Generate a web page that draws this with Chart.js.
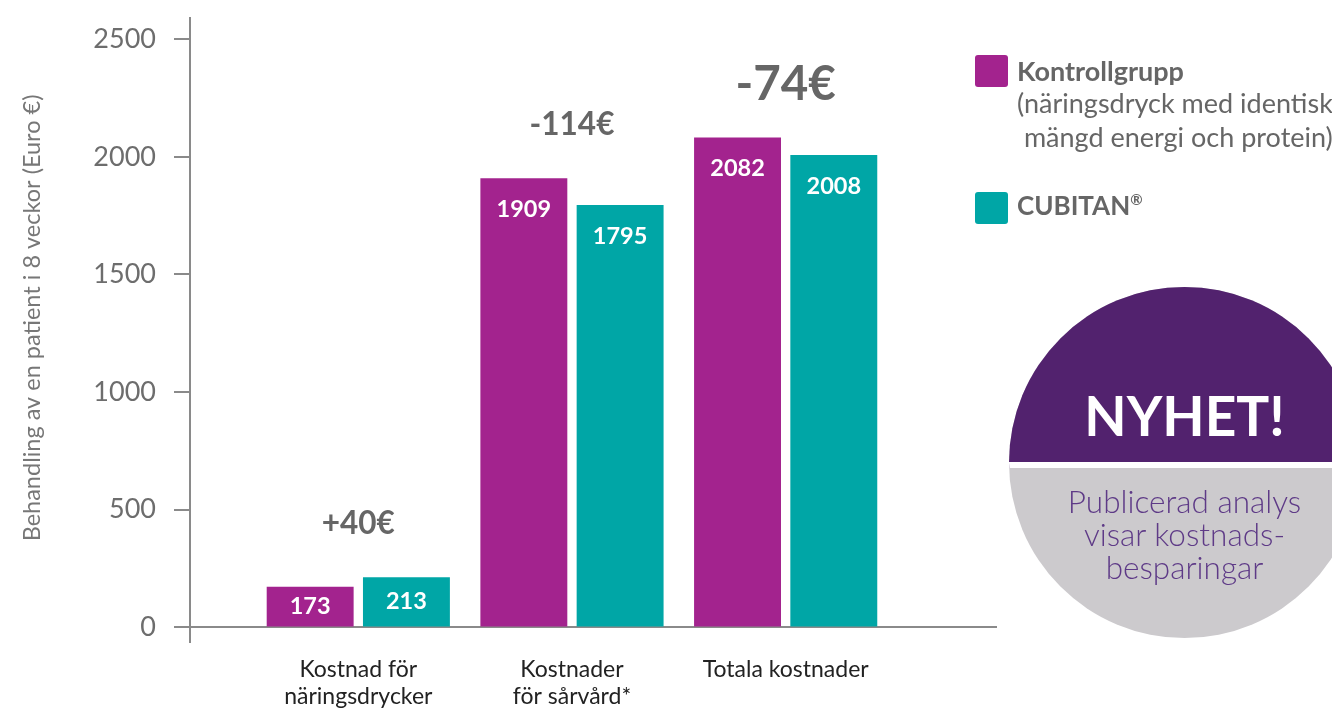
<!DOCTYPE html>
<html>
<head>
<meta charset="utf-8">
<script src="https://cdn.jsdelivr.net/npm/chart.js@4.4.1/dist/chart.umd.min.js"></script>
<style>
  html, body { margin: 0; padding: 0; background: #fff; overflow: hidden; }
  #wrap { position: relative; width: 1332px; height: 709px; overflow: hidden; font-family: Lato, sans-serif; }
  #chart { position: absolute; left: 0; top: 0; }
  .key { position: absolute; left: 975px; width: 33px; height: 32px; border-radius: 3px; }
  .ltxt { position: absolute; left: 1017px; color: #666; white-space: nowrap; font-size: 27px; line-height: 34px; }
  .ltxt b { font-weight: 700; }
  .ltxt sup { font-size: 15px; vertical-align: 10px; line-height: 0; }
  #badge { position: absolute; left: 1009px; top: 287px; width: 351px; height: 351px; border-radius: 50%; overflow: hidden; background: #cccacd; }
  #badge .top { position: absolute; left: 0; top: 0; width: 100%; height: 175px; background: #52226e; border-bottom: 6px solid #fff; }
  #badge .head { position: absolute; left: 0; width: 100%; top: 94px; text-align: center; color: #fff; font-weight: 700; font-size: 55px; line-height: 68px; }
  #badge .sub { position: absolute; left: 0; width: 100%; top: 198px; text-align: center; color: #5e3a87; font-weight: 300; font-size: 31.5px; line-height: 33px; }
</style>
</head>
<body>
<div id="wrap">
  <canvas id="chart" width="1332" height="709"></canvas>
  <div id="legend"></div>
  <div id="badge">
    <div class="top"></div>
    <div class="head">NYHET!</div>
    <div class="sub">Publicerad analys<br>visar kostnads-<br>besparingar</div>
  </div>
</div>
<script>
// categories (multi-line tick labels)
var categories = [['Kostnad för', 'näringsdrycker'], ['Kostnader', 'för sårvård*'], ['Totala kostnader']];
// series values (Euro per patient over 8 weeks)
var controlValues = [173, 1909, 2082];
var cubitanValues = [213, 1795, 2008];
var seriesNames = ['Kontrollgrupp', 'CUBITAN®'];
var seriesNotes = ['(näringsdryck med identisk', '\u00a0mängd energi och protein)'];
var yTicks = [0, 500, 1000, 1500, 2000, 2500];

var colors = ['#a3238e', '#00a6a6'];
var diffFontSizes = [31.5, 31.5, 47.5];

Chart.defaults.font.family = 'Lato, sans-serif';

// HTML legend
var legend = document.getElementById('legend');
legend.innerHTML =
  '<div class="key" style="top:55px;background:' + colors[0] + '"></div>' +
  '<div class="ltxt" style="top:54px"><b>' + seriesNames[0] + '</b></div>' +
  '<div class="ltxt" style="top:86px">' + seriesNotes[0] + '</div>' +
  '<div class="ltxt" style="top:120px">' + seriesNotes[1] + '</div>' +
  '<div class="key" style="top:192px;background:' + colors[1] + '"></div>' +
  '<div class="ltxt" style="top:188px;font-size:26px"><b>CUBITAN<sup>®</sup></b></div>';

var labelPlugin = {
  id: 'barLabels',
  afterDatasetsDraw: function(chart) {
    var ctx = chart.ctx;
    var metas = [chart.getDatasetMeta(0), chart.getDatasetMeta(1)];
    ctx.save();
    ctx.textAlign = 'center';
    ctx.textBaseline = 'middle';
    ctx.fillStyle = '#ffffff';
    ctx.font = 'bold 23.5px Lato, sans-serif';
    metas.forEach(function(meta, i) {
      var vals = i === 0 ? controlValues : cubitanValues;
      meta.data.forEach(function(bar, j) {
        var y = Math.min(bar.y + 31, (bar.y + bar.base) / 2);
        ctx.fillText(String(vals[j]), bar.x, y);
      });
    });
    // difference labels above each group
    ctx.fillStyle = '#666666';
    categories.forEach(function(c, j) {
      var a = metas[0].data[j], b = metas[1].data[j];
      var d = cubitanValues[j] - controlValues[j];
      var txt = (d > 0 ? '+' : '') + d + '€';
      ctx.font = 'bold ' + diffFontSizes[j] + 'px Lato, sans-serif';
      ctx.fillText(txt, (a.x + b.x) / 2, Math.min(a.y, b.y) - 53);
    });
    ctx.restore();
  }
};

var chart = new Chart(document.getElementById('chart'), {
  type: 'bar',
  data: {
    datasets: [
      {
        label: seriesNames[0],
        data: controlValues.map(function(v, i) { return {x: i, y: v}; }),
        backgroundColor: colors[0],
        borderWidth: 0
      },
      {
        label: seriesNames[1],
        data: cubitanValues.map(function(v, i) { return {x: i, y: v}; }),
        backgroundColor: colors[1],
        borderWidth: 0
      }
    ]
  },
  options: {
    animation: false,
    responsive: false,
    maintainAspectRatio: false,
    categoryPercentage: 0.901,
    barPercentage: 0.903,
    layout: { padding: { left: 0, right: 335, top: 18, bottom: 0 } },
    plugins: {
      legend: { display: false },
      tooltip: { enabled: false }
    },
    scales: {
      x: {
        type: 'linear',
        offset: false,
        bounds: 'data',
        min: -0.7876,
        max: 2.989,
        afterBuildTicks: function(axis) {
          axis.ticks = categories.map(function(c, i) { return {value: i}; });
        },
        afterFit: function(axis) {
          axis.height = 67;
          axis.paddingLeft = 0;
          axis.paddingRight = 0;
        },
        grid: { display: false, drawTicks: false },
        border: { display: false },
        ticks: {
          autoSkip: false,
          maxRotation: 0,
          padding: 14,
          color: '#222222',
          font: { size: 23, lineHeight: 1.17 },
          callback: function(value) { return categories[value]; }
        }
      },
      y: {
        min: -62,
        max: 2590,
        afterBuildTicks: function(axis) {
          axis.ticks = yTicks.map(function(v) { return {value: v}; });
        },
        afterFit: function(axis) {
          axis.width = 190;
          axis.paddingTop = 0;
          axis.paddingBottom = 0;
        },
        border: { display: true, color: '#8a8a8a', width: 2 },
        grid: {
          drawTicks: true,
          tickLength: 16,
          lineWidth: 2,
          tickColor: '#8a8a8a',
          color: function(ctx) { return ctx.tick && ctx.tick.value === 0 ? '#8a8a8a' : 'rgba(0,0,0,0)'; }
        },
        ticks: {
          padding: 18,
          color: '#6d6d6d',
          font: { size: 27 },
          callback: function(value) { return String(value); }
        },
        title: {
          display: true,
          // leading spaces nudge the centred title up a little
          text: '\u00a0\u00a0\u00a0\u00a0Behandling av en patient i 8 veckor (Euro €)',
          color: '#777777',
          font: { size: 23.5 },
          padding: { top: 18, bottom: 0 }
        }
      }
    }
  },
  plugins: [labelPlugin]
});
</script>
</body>
</html>
